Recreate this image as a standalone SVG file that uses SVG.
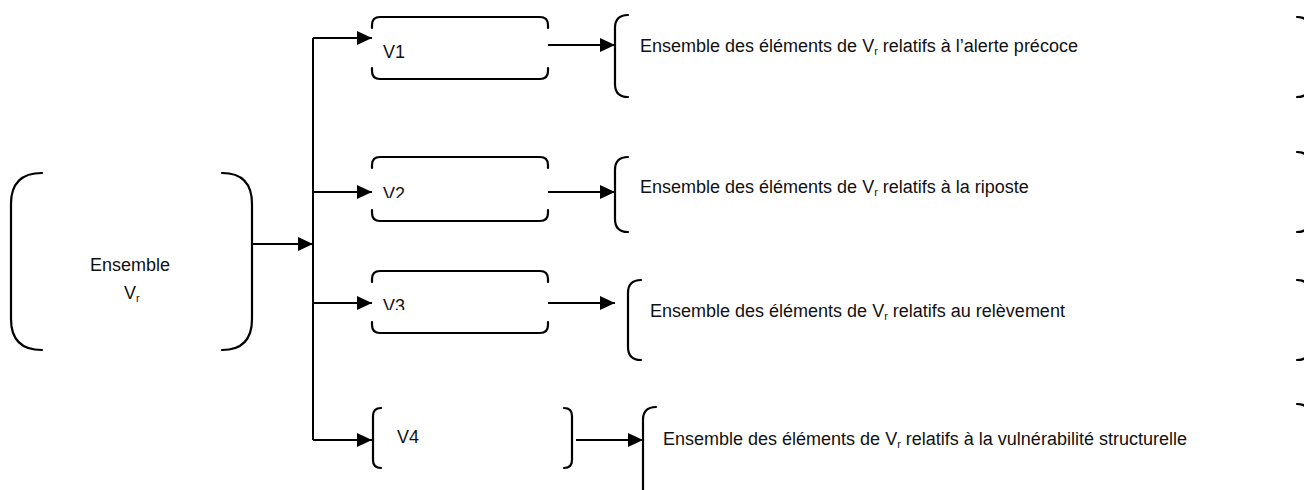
<svg xmlns="http://www.w3.org/2000/svg" width="1304" height="490" viewBox="0 0 1304 490">
<style>
.br{fill:none;stroke:#000;stroke-width:2.2;stroke-linecap:round}
.cn{fill:none;stroke:#000;stroke-width:2}
.t{font-family:"Liberation Sans",Arial,sans-serif;font-size:18px;fill:#111}
.sub{font-size:11px}
</style>
<defs>
<marker id="ah" markerUnits="userSpaceOnUse" markerWidth="16" markerHeight="14" refX="15" refY="7" orient="auto"><path d="M0,0 L15,7 L0,14 z" fill="#000"/></marker>
<clipPath id="c2"><rect x="370" y="150" width="180" height="48"/></clipPath>
<clipPath id="c3"><rect x="370" y="265" width="180" height="45"/></clipPath>
</defs>
<rect width="1304" height="490" fill="#fff"/>
<g id="ensemble">
<path class="br" d="M42,173 Q11,173 11,204 L11,319 Q11,350 42,350"/>
<path class="br" d="M222,173 Q252,173 252,204 L252,319 Q252,350 222,350"/>
<text class="t" x="130" y="271" text-anchor="middle">Ensemble</text>
<text class="t" x="124" y="299">V<tspan class="sub" dy="3">r</tspan></text>
</g>
<g id="v1">
<path class="br" d="M372,28 L372,25 Q372,17 380,17 L540,17 Q548,17 548,25 L548,28 M372,68 L372,71 Q372,79 380,79 L540,79 Q548,79 548,71 L548,68"/>
<text class="t" x="383" y="58">V1</text>
</g>
<g id="v2">
<path class="br" d="M372,168 L372,165 Q372,157 380,157 L540,157 Q548,157 548,165 L548,168 M372,210 L372,213 Q372,221 380,221 L540,221 Q548,221 548,213 L548,210"/>
<text class="t" x="383" y="200" clip-path="url(#c2)">V2</text>
</g>
<g id="v3">
<path class="br" d="M372,282 L372,279 Q372,271 380,271 L540,271 Q548,271 548,279 L548,282 M372,322 L372,325 Q372,333 380,333 L540,333 Q548,333 548,325 L548,322"/>
<text class="t" x="383" y="312" clip-path="url(#c3)">V3</text>
</g>
<g id="v4">
<path class="br" d="M381,408 Q373,408 373,416 L373,460 Q373,468 381,468 M564,408 Q572,408 572,416 L572,460 Q572,468 564,468"/>
<text class="t" x="397" y="443">V4</text>
</g>
<g id="e1">
<path class="br" d="M628,15 Q615,15 615,28 L615,84 Q615,97 628,97"/>
<path class="br" d="M1297,17 Q1310,17 1310,30 L1310,84 Q1310,97 1297,97"/>
<text class="t" x="640" y="52">Ensemble des éléments de V<tspan class="sub" dy="3">r</tspan><tspan dy="-3"> relatifs à l’alerte précoce</tspan></text>
</g>
<g id="e2">
<path class="br" d="M628,157 Q615,157 615,170 L615,219 Q615,232 628,232"/>
<path class="br" d="M1297,152 Q1310,152 1310,165 L1310,219 Q1310,232 1297,232"/>
<text class="t" x="640" y="193">Ensemble des éléments de V<tspan class="sub" dy="3">r</tspan><tspan dy="-3"> relatifs à la riposte</tspan></text>
</g>
<g id="e3">
<path class="br" d="M641,280 Q628,280 628,293 L628,347 Q628,360 641,360"/>
<path class="br" d="M1297,280 Q1310,280 1310,293 L1310,347 Q1310,360 1297,360"/>
<text class="t" x="650" y="317">Ensemble des éléments de V<tspan class="sub" dy="3">r</tspan><tspan dy="-3"> relatifs au relèvement</tspan></text>
</g>
<g id="e4">
<path class="br" d="M656,407 Q643,407 643,420 L643,500"/>
<path class="br" d="M1297,404 Q1310,404 1310,417 L1310,500"/>
<text class="t" x="663" y="445">Ensemble des éléments de V<tspan class="sub" dy="3">r</tspan><tspan dy="-3"> relatifs à la vulnérabilité structurelle</tspan></text>
</g>
<g id="connectors">
<path class="cn" d="M252,244 L313,244" marker-end="url(#ah)"/>
<path class="cn" d="M313,38 L313,440"/>
<path class="cn" d="M313,38 L372,38" marker-end="url(#ah)"/>
<path class="cn" d="M313,192 L372,192" marker-end="url(#ah)"/>
<path class="cn" d="M313,303 L372,303" marker-end="url(#ah)"/>
<path class="cn" d="M313,440 L372,440" marker-end="url(#ah)"/>
<path class="cn" d="M548,45 L615,45" marker-end="url(#ah)"/>
<path class="cn" d="M548,192 L615,192" marker-end="url(#ah)"/>
<path class="cn" d="M548,303 L615,303" marker-end="url(#ah)"/>
<path class="cn" d="M576,440 L643,440" marker-end="url(#ah)"/>
</g>
</svg>
